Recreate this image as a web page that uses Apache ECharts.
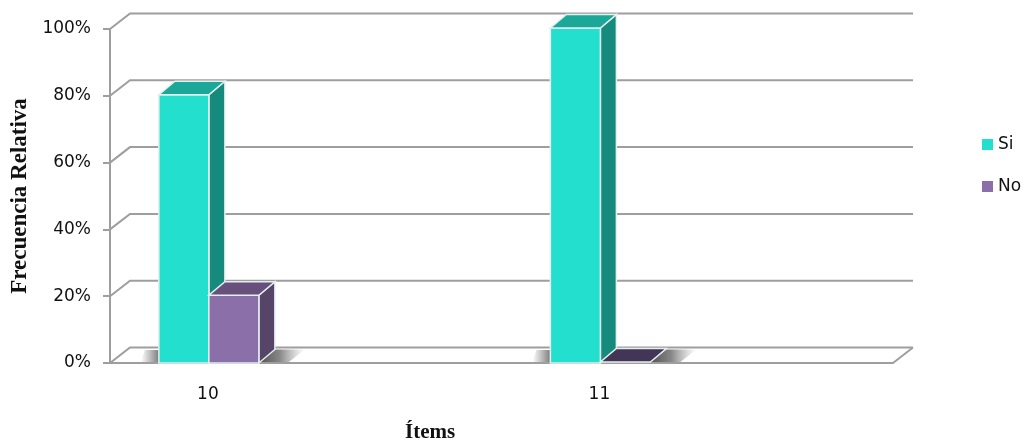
<!DOCTYPE html>
<html>
<head>
<meta charset="utf-8">
<style>html,body{margin:0;padding:0;background:#fff}#c{width:1023px;height:440px}</style>
<script src="https://cdn.jsdelivr.net/npm/echarts@6/dist/echarts.min.js"></script>
</head>
<body>
<div id="c"></div>
<script>
const categories = ["10", "", "11", ""];
const si = [80, null, 100, null];
const no = [20, null, 0, null];
const ticks = [0, 20, 40, 60, 80, 100];

const LABEL_FONT = "'DejaVu Sans'";
const TITLE_FONT = "'Liberation Serif'";
const GRID_COLOR = "#9e9e9e";
const BAR_W = 50, BAR_SHIFT = 1, DX = 16, DY = 13.5, WALL_DX = 20, WALL_DY = 15.5;

const pts = (d) => d.filter(p => p[1] !== null);
const toData = (arr) => pts(arr.map((v, i) => [i, v]));

function wallItem(params, api) {
  const cs = params.coordSys;
  const y = api.coord([0, api.value(0)])[1];
  const x0 = cs.x, x1 = cs.x + cs.width;
  const line = { stroke: GRID_COLOR, lineWidth: 2, fill: null };
  const children = [{
    type: "polyline",
    shape: { points: [[x0, y], [x0 + WALL_DX, y - WALL_DY], [x1 + WALL_DX, y - WALL_DY]] },
    style: line
  }];
  if (api.value(0) === 0) {
    children.push({
      type: "polyline",
      shape: { points: [[x1 + WALL_DX, y - WALL_DY], [x1, y]] },
      style: line
    });
  }
  return { type: "group", children };
}

function shadowItem(params, api) {
  const c = api.coord([api.value(0), 0]);
  const y0 = c[1], L = c[0] + BAR_SHIFT - BAR_W, R = c[0] + BAR_SHIFT + BAR_W;
  return {
    type: "group",
    children: [
      {
        type: "polygon",
        shape: { points: [[L - 18, y0 - 1], [L, y0 - 1], [L, y0 - 13], [L - 14, y0 - 13]] },
        style: {
          fill: new echarts.graphic.LinearGradient(0, 0, 1, 0, [
            { offset: 0, color: "rgba(130,130,130,0)" },
            { offset: 1, color: "rgba(125,125,125,1)" }
          ])
        }
      },
      {
        type: "polygon",
        shape: { points: [[R, y0 - 1], [R + DX, y0 - DY], [R + 46, y0 - DY], [R + 30, y0 - 1]] },
        style: {
          fill: new echarts.graphic.LinearGradient(0, 0, 1, 0, [
            { offset: 0, color: "rgba(80,80,80,1)" },
            { offset: 0.45, color: "rgba(105,105,105,0.8)" },
            { offset: 1, color: "rgba(140,140,140,0)" }
          ])
        }
      }
    ]
  };
}

function barRenderer(offset, front, top, side, flatTop) {
  return function (params, api) {
    const v = api.value(1);
    const c = api.coord([api.value(0), v]);
    const y0 = api.coord([api.value(0), 0])[1];
    const x0 = c[0] + BAR_SHIFT + offset, x1 = x0 + BAR_W, y = c[1] - 1;
    const edge = { stroke: "#e4efee", lineWidth: 1.5 };
    const children = [];
    if (v > 0) {
      children.push({
        type: "polygon",
        shape: { points: [[x1, y], [x1 + DX, y - DY], [x1 + DX, y0 - DY], [x1, y0]] },
        style: Object.assign({ fill: side }, edge)
      });
      children.push({
        type: "rect",
        shape: { x: x0, y: y, width: BAR_W, height: y0 - y },
        style: Object.assign({ fill: front }, edge)
      });
    }
    children.push({
      type: "polygon",
      shape: { points: [[x0, y], [x1, y], [x1 + DX, y - DY], [x0 + DX, y - DY]] },
      style: Object.assign({ fill: v > 0 ? top : flatTop }, edge)
    });
    return { type: "group", children };
  };
}

const chart = echarts.init(document.getElementById("c"), null, { renderer: "canvas" });
chart.setOption({
  animation: false,
  backgroundColor: "#ffffff",
  title: {
    text: "Ítems",
    left: 400,
    top: 417,
    textStyle: { fontFamily: TITLE_FONT, fontSize: 21, fontWeight: "bold", color: "#111" }
  },
  legend: {
    data: ["Si", "No"],
    orient: "vertical",
    left: 977,
    top: 131,
    icon: "rect",
    itemWidth: 11,
    itemHeight: 11,
    itemGap: 25,
    textStyle: { fontFamily: LABEL_FONT, fontSize: 17, color: "#111" }
  },
  grid: { left: 110, right: 130, top: 29, bottom: 77, outerBoundsMode: "none" },
  xAxis: {
    type: "category",
    data: categories,
    axisLine: { show: true, lineStyle: { color: GRID_COLOR, width: 2 } },
    axisTick: { show: false },
    axisLabel: { interval: 0, margin: 23, fontFamily: LABEL_FONT, fontSize: 17, color: "#111" }
  },
  yAxis: {
    type: "value",
    min: 0,
    max: 100,
    interval: 20,
    name: "Frecuencia Relativa",
    nameLocation: "middle",
    nameGap: 73,
    nameRotate: 90,
    nameTextStyle: { fontFamily: TITLE_FONT, fontSize: 23, fontWeight: "bold", color: "#111" },
    axisLine: { show: true, lineStyle: { color: GRID_COLOR, width: 2 } },
    axisTick: { show: true, length: 7, lineStyle: { color: GRID_COLOR, width: 2 } },
    splitLine: { show: false },
    axisLabel: { formatter: "{value}%", margin: 19, padding: [6, 0, 0, 0], fontFamily: LABEL_FONT, fontSize: 17, color: "#111" }
  },
  series: [
    { type: "custom", name: "wall", silent: true, z: 1, data: ticks.map(t => [t]), encode: { y: 0 }, renderItem: wallItem },
    { type: "custom", name: "shadow", silent: true, z: 2, data: toData(si), renderItem: shadowItem },
    {
      type: "custom", name: "Si", z: 3, data: toData(si),
      itemStyle: { color: "#23dfcd" },
      renderItem: barRenderer(-BAR_W, "#23dfcd", "#1ca899", "#168a7c", "#1ca899")
    },
    {
      type: "custom", name: "No", z: 4, data: toData(no),
      itemStyle: { color: "#8b6fa9" },
      renderItem: barRenderer(0, "#8b6fa9", "#674f7e", "#574569", "#433555")
    }
  ]
});
</script>
</body>
</html>
